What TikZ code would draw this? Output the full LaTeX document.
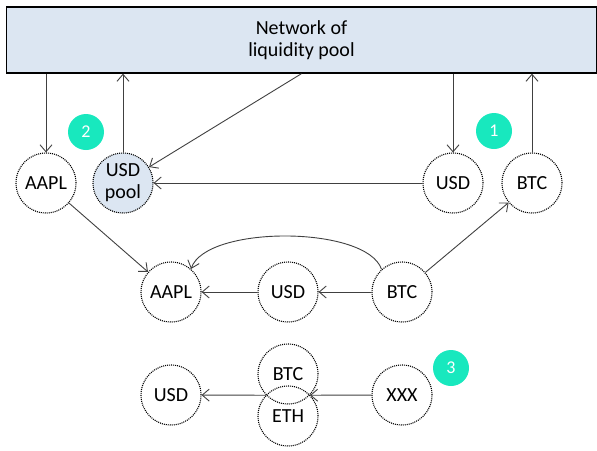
\documentclass[tikz,border=0pt]{standalone}
\usepackage{fontspec}
\setmainfont{Carlito}
\usetikzlibrary{arrows.meta}
\definecolor{poolblue}{RGB}{220,230,242}
\definecolor{badgeteal}{RGB}{24,232,190}
\definecolor{linegray}{RGB}{64,64,64}

\begin{document}
\begin{tikzpicture}[x=1pt, y=-1pt, font=\fontsize{20}{22}\selectfont,
	coin/.style={circle, draw, dash pattern=on 1pt off 1pt, line width=1.1pt, minimum size=60pt, inner sep=0pt, align=center},
	badge/.style={circle, fill=badgeteal, text=white, minimum size=36pt, inner sep=0pt, font=\fontsize{18}{20}\selectfont},
	flow/.style={draw=linegray, line width=0.9pt, -{Straight Barb[length=7pt,width=12pt]}}]
\useasboundingbox (0,0) rectangle (597,450);
\node[draw, line width=1.3pt, fill=poolblue, minimum width=590pt, minimum height=66pt, align=center] (net) at (301.5,40) {Network of\\liquidity pool};
\node[coin] (aaplA) at (46,183) {AAPL};
\node[coin, fill=poolblue] (pool) at (123,183) {USD\\pool};
\node[coin] (usdA) at (453,183) {USD};
\node[coin] (btcA) at (532,183) {BTC};
\node[coin] (aaplB) at (171,292) {AAPL};
\node[coin] (usdB) at (288,292) {USD};
\node[coin] (btcB) at (402,292) {BTC};
\node[coin] (usdC) at (171,395) {USD};
\node[coin] (btcC) at (288,374) {BTC};
\node[coin] (ethC) at (288,416) {ETH};
\node[coin] (xxxC) at (402,395) {XXX};
\node[badge] (two) at (86,132) {2};
\node[badge] (one) at (494,131) {1};
\node[badge] (three) at (451,368) {3};
\draw[flow] (net.south -| aaplA) -- (aaplA);
\draw[flow] (pool) -- (net.south -| pool);
\draw[flow] (net.south) -- (pool);
\draw[flow] (net.south -| usdA) -- (usdA);
\draw[flow] (btcA) -- (net.south -| btcA);
\draw[flow] (usdA) -- (pool);
\draw[flow] (aaplA) -- (aaplB);
\draw[flow] (btcB) -- (btcA);
\draw[flow] (btcB) -- (usdB);
\draw[flow] (usdB) -- (aaplB);
\draw[flow] (btcB.132) .. controls +(-15,-44) and +(15,-44) .. (aaplB.49);
\draw[flow] (xxxC) -- (btcC.-44);
\draw[flow] (btcC.-136) -- (usdC);
\end{tikzpicture}
\end{document}
